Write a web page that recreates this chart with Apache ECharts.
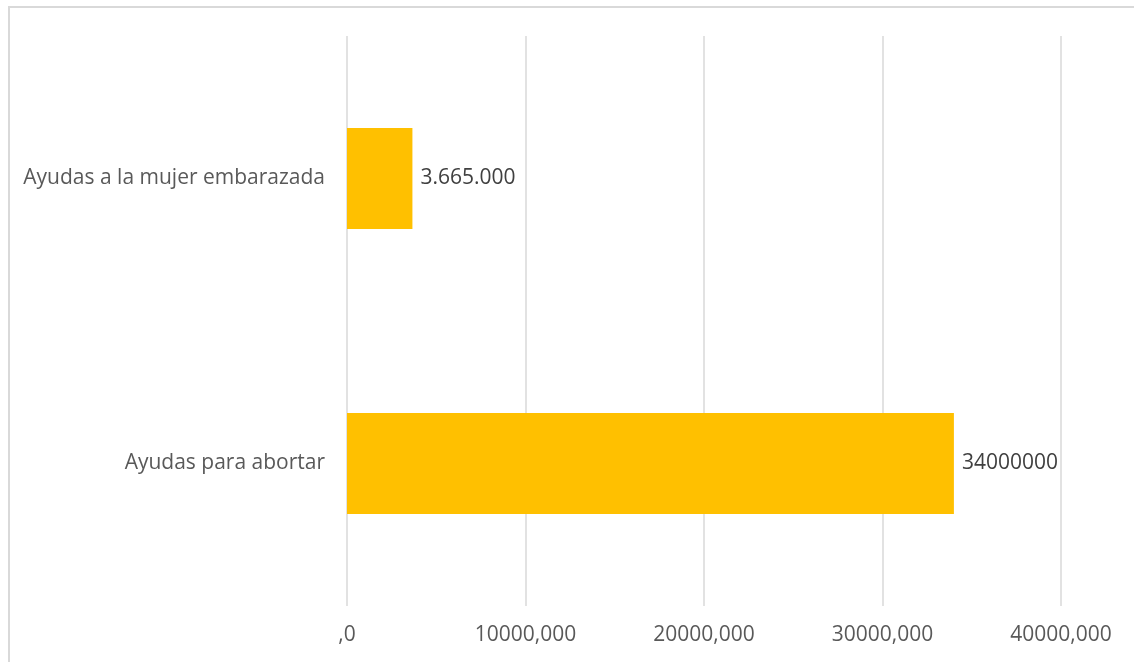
<!DOCTYPE html>
<html><head><meta charset="utf-8">
<script src="https://cdn.jsdelivr.net/npm/echarts@6/dist/echarts.min.js"></script>
<style>
html,body{margin:0;padding:0;background:#fff;}
#frame{position:absolute;left:8px;top:6px;width:1140px;height:670px;border:2px solid #d9d9d9;box-sizing:border-box;}
#c{position:absolute;left:0;top:0;width:1134px;height:662px;}
</style></head>
<body>
<div id="frame"></div>
<div id="c"></div>
<script>
const categories = ["Ayudas para abortar", "Ayudas a la mujer embarazada"];
const values = [34000000, 3665000];
const valueLabels = ["34000000", "3.665.000"];
const tickLabels = [",0", "10000,000", "20000,000", "30000,000", "40000,000"];

const chart = echarts.init(document.getElementById('c'));
const font = "Open Sans";
chart.setOption({
  animation: false,
  grid: {left: 347, right: 73, top: 36, bottom: 56, containLabel: false},
  xAxis: {
    type: 'value', min: 0, max: 40000000, interval: 10000000,
    axisLine: {show: false}, axisTick: {show: false},
    splitLine: {show: true, lineStyle: {color: '#d9d9d9', width: 1.5}},
    axisLabel: {
      margin: 19, color: '#595959', fontSize: 21, fontFamily: font,
      formatter: (v) => tickLabels[Math.round(v / 10000000)]
    }
  },
  yAxis: {
    type: 'category', data: categories,
    axisLine: {show: false}, axisTick: {show: false},
    axisLabel: {margin: 22, color: '#595959', fontSize: 21, fontFamily: font}
  },
  series: [{
    type: 'bar', data: values, barWidth: 101,
    itemStyle: {color: '#ffc000'},
    label: {
      show: true, position: 'right', distance: 8,
      color: '#404040', fontSize: 21, fontFamily: font,
      formatter: (p) => valueLabels[p.dataIndex]
    }
  }]
});
</script>
</body></html>
